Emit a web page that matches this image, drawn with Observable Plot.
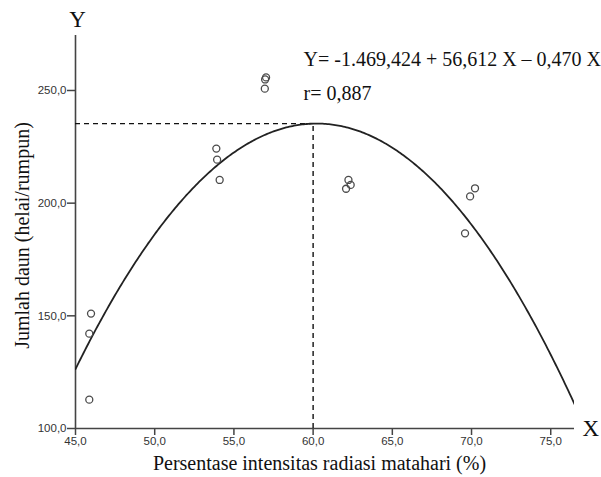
<!DOCTYPE html>
<html>
<head>
<meta charset="utf-8">
<script src="https://cdn.jsdelivr.net/npm/d3@7"></script>
<script src="https://cdn.jsdelivr.net/npm/@observablehq/plot@0.6"></script>
<style>
  html, body { margin: 0; padding: 0; background: #fff; }
  #chart svg { display: block; }
</style>
</head>
<body>
<div id="chart"></div>
<script>
// Observed leaf counts against light-intensity percentage
const radiasi = [45.98, 45.87, 45.87, 53.89, 53.94, 54.10, 56.97, 57.03, 56.95, 62.23, 62.37, 62.08, 70.22, 69.91, 69.59];
const daun    = [151.0, 142.1, 112.8, 224.2, 219.3, 210.3, 254.9, 255.8, 250.8, 210.3, 208.1, 206.4, 206.6, 203.0, 186.6];

// Quadratic regression coefficients (as printed)
const koef = {a: -1469.424, b: 56.612, c: -0.470};
const rValue = "0,887";

const xTicks = [45, 50, 55, 60, 65, 70, 75];
const yTicks = [100, 150, 200, 250];
const xDomain = [45, 76.5];
const yDomain = [100, 274.4];
const xGuide = 60;

const fmt = d => d.toFixed(1).replace(".", ",");
const fit = x => koef.a + koef.b * x + koef.c * x * x;

const points = radiasi.map((x, i) => ({x, y: daun[i]}));
const curveXs = d3.range(xDomain[0], xDomain[1] + 1e-9, 0.1);
const curve = curveXs.map(x => ({x, y: fit(x)}));
const yGuide = fit(xGuide);

const serif = "'Liberation Serif', 'Times New Roman', serif";
const sans = "'Liberation Sans', Arial, sans-serif";

const chart = Plot.plot({
  width: 601,
  height: 477,
  marginLeft: 75,
  marginRight: 27,
  marginTop: 35,
  marginBottom: 49,
  style: {background: "#fff", overflow: "visible"},
  x: {domain: xDomain},
  y: {domain: yDomain},
  marks: [
    Plot.axisX({ticks: xTicks, tickFormat: fmt, tickSize: 7, tickPadding: 1, fontSize: 11.5,
      fontFamily: sans, color: "#333", stroke: "#444", strokeWidth: 1.5, label: null}),
    Plot.axisY({ticks: yTicks, tickFormat: fmt, tickSize: 8, tickPadding: 1, fontSize: 11.5,
      fontFamily: sans, color: "#333", stroke: "#444", strokeWidth: 1.5, label: null}),
    // axis lines
    Plot.ruleY([yDomain[0]], {stroke: "#444", strokeWidth: 1.6}),
    Plot.ruleX([xDomain[0]], {stroke: "#444", strokeWidth: 1.6}),
    // guides to the vertex
    Plot.ruleY([yGuide], {x1: xDomain[0], x2: xGuide, stroke: "#111", strokeWidth: 1.4, strokeDasharray: "5,4"}),
    Plot.ruleX([xGuide], {y1: yDomain[0], y2: yGuide, stroke: "#111", strokeWidth: 1.4, strokeDasharray: "5,4"}),
    // fitted curve
    Plot.line(curve, {x: "x", y: "y", stroke: "#222", strokeWidth: 1.8, clip: true}),
    // observations
    Plot.dot(points, {x: "x", y: "y", r: 3.5, stroke: "#4a4a4a", strokeWidth: 1.3, fill: "none"}),
    // equation text
    Plot.text(["Y= -1.469,424 + 56,612 X \u2013 0,470 X"], {frameAnchor: "top-left", dx: 228, dy: 24,
      textAnchor: "start", lineAnchor: "middle", fontSize: 20, fontFamily: serif, fill: "#111"}),
    Plot.text(["r= " + rValue], {frameAnchor: "top-left", dx: 228, dy: 58,
      textAnchor: "start", lineAnchor: "middle", fontSize: 20, fontFamily: serif, fill: "#111"}),
    // axis letters
    Plot.text(["Y"], {frameAnchor: "top-left", dx: 2, dy: -16, textAnchor: "middle", lineAnchor: "middle",
      fontSize: 23, fontFamily: serif, fill: "#111"}),
    Plot.text(["X"], {frameAnchor: "bottom-right", dx: 8, dy: 0, textAnchor: "start", lineAnchor: "middle",
      fontSize: 23, fontFamily: serif, fill: "#111"}),
    // axis titles
    Plot.text(["Jumlah daun (helai/rumpun)"], {frameAnchor: "left", dx: -53, dy: 3.5, rotate: -90,
      textAnchor: "middle", lineAnchor: "middle", fontSize: 20, fontFamily: serif, fill: "#111"}),
    Plot.text(["Persentase intensitas radiasi matahari (%)"], {frameAnchor: "bottom", dx: -5.5, dy: 35.5,
      textAnchor: "middle", lineAnchor: "middle", fontSize: 20, fontFamily: serif, fill: "#111"})
  ]
});

document.getElementById("chart").appendChild(chart);
</script>
</body>
</html>
